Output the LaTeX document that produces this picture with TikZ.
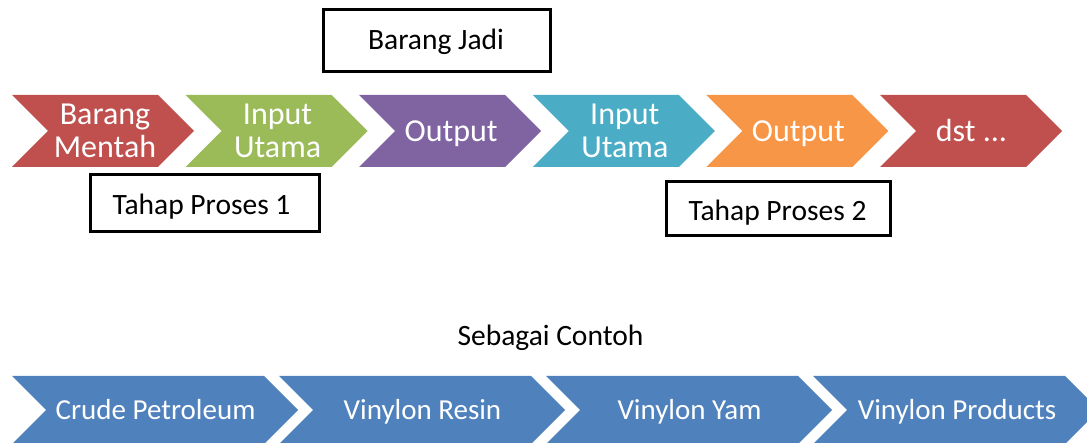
\documentclass[tikz,border=0pt]{standalone}
\usepackage{fontspec}
\setmainfont{Carlito}
\definecolor{cred}{HTML}{C0504D}
\definecolor{cgreen}{HTML}{9BBB59}
\definecolor{cpurple}{HTML}{8064A2}
\definecolor{ccyan}{HTML}{4BACC6}
\definecolor{corange}{HTML}{F79646}
\definecolor{cblue}{HTML}{4F81BD}
\tikzset{
  chevtext/.style={text=white, align=center, inner sep=0pt, font=\fontsize{32}{33}\selectfont},
  onetext/.style={chevtext, text height=20.6pt, text depth=0pt},
  lowtext/.style={text=white, inner sep=0pt, text height=18.7pt, text depth=0pt, font=\fontsize{29}{33}\selectfont},
  labelbox/.style={draw=black, line width=3pt, fill=white},
  boxtext/.style={inner sep=0pt, text height=19pt, text depth=0pt, font=\fontsize{29.5}{33}\selectfont},
}
% left, center y, width, half-height, colour
\newcommand\mychev[5]{%
  \fill[#5] ({#1},{#2-#4}) -- ({#1+#3-#4},{#2-#4}) -- ({#1+#3},{#2}) -- ({#1+#3-#4},{#2+#4}) -- ({#1},{#2+#4}) -- ({#1+#4},{#2}) -- cycle;}
\begin{document}
\begin{tikzpicture}[x=1pt,y=-1pt]
\useasboundingbox (0,0) rectangle (1087,443);
\begin{scope}
\clip (0,0) rectangle (1087,443);
% top row
\mychev{12}{131}{182}{36}{cred}
\mychev{185.6}{131}{182}{36}{cgreen}
\mychev{359.2}{131}{182}{36}{cpurple}
\mychev{532.8}{131}{182}{36}{ccyan}
\mychev{706.4}{131}{182}{36}{corange}
\mychev{880}{131}{182}{36}{cred}
\node[chevtext] (c1) at (105,131) {Barang\\Mentah};
\node[chevtext] (c2) at (277.6,131) {Input\\Utama};
\node[onetext] (c3) at (451.2,131) {Output};
\node[chevtext] (c4) at (624.8,131) {Input\\Utama};
\node[onetext] (c5) at (798.4,131) {Output};
\node[onetext] (c6) at (971.5,131) {dst ...};
% bottom row
\mychev{12}{410}{286}{34}{cblue}
\mychev{279}{410}{286}{34}{cblue}
\mychev{546}{410}{286}{34}{cblue}
\mychev{813}{410}{286}{34}{cblue}
\node[lowtext] (d1) at (155.5,410) {Crude Petroleum};
\node[lowtext] (d2) at (422.5,410) {Vinylon Resin};
\node[lowtext] (d3) at (689.5,410) {Vinylon Yam};
\node[lowtext] (d4) at (957,410) {Vinylon Products};
\end{scope}
% boxes
\draw[labelbox] (323.2,9.8) rectangle (550.2,71.5);
\node[boxtext] (bj) at (436,40.5) {Barang Jadi};
\draw[labelbox] (90.5,174.5) rectangle (319.5,231.5);
\node[boxtext] (tp1) at (201.5,205) {Tahap Proses 1};
\draw[labelbox] (666.5,181.5) rectangle (890.5,235.5);
\node[boxtext] (tp2) at (777.5,211.5) {Tahap Proses 2};
\node[boxtext] (sc) at (550.5,336) {Sebagai Contoh};
\end{tikzpicture}
\end{document}
